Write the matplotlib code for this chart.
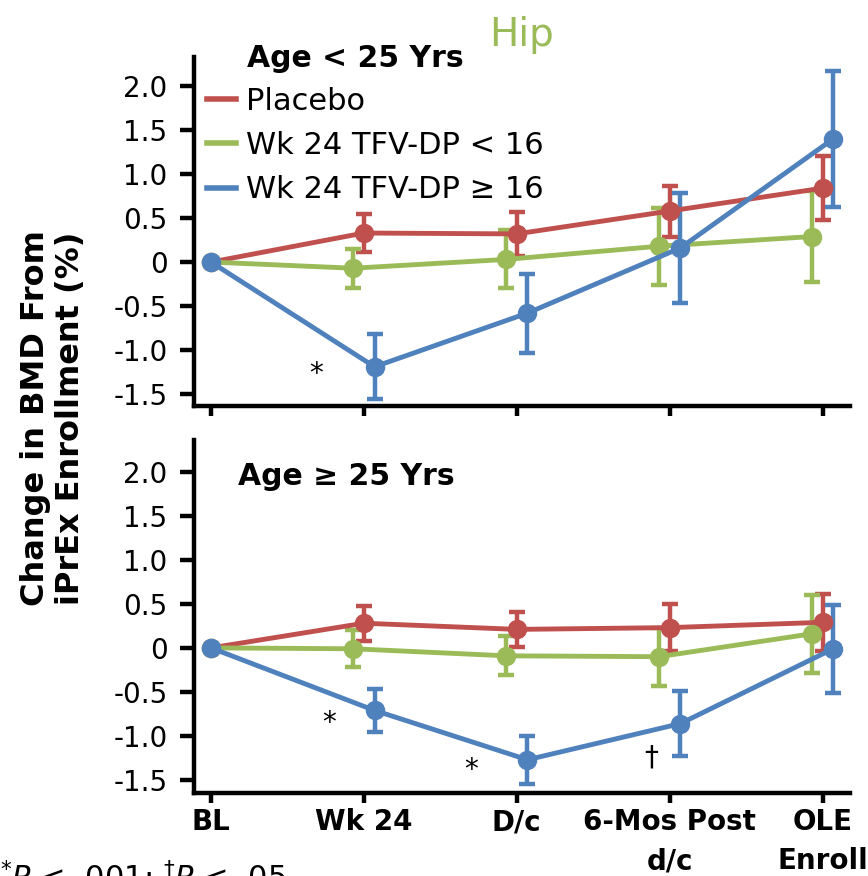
import matplotlib
matplotlib.use("Agg")
import matplotlib.pyplot as plt
import numpy as np

plt.rcParams['font.family'] = ['DejaVu Sans']

# time points
timepoints = ["BL", "Wk 24", "D/c", "6-Mos Post\nd/c", "OLE\nEnroll"]
series_names = ["Placebo", "Wk 24 TFV-DP < 16", "Wk 24 TFV-DP \u2265 16"]
colors = ["#C0504D", "#9BBB59", "#4F81BD"]
offsets = [0.0, -0.07, 0.07]

# Age < 25 years: mean change (%) and error half-widths
young_placebo = [0, 0.33, 0.32, 0.58, 0.84]
young_placebo_err = [0, 0.22, 0.25, 0.29, 0.36]
young_low = [0, -0.07, 0.03, 0.18, 0.29]
young_low_err = [0, 0.22, 0.33, 0.44, 0.52]
young_high = [0, -1.19, -0.58, 0.16, 1.40]
young_high_err = [0, 0.37, 0.45, 0.63, 0.77]

# Age >= 25 years
old_placebo = [0, 0.28, 0.21, 0.23, 0.29]
old_placebo_err = [0, 0.20, 0.20, 0.27, 0.32]
old_low = [0, -0.01, -0.09, -0.10, 0.16]
old_low_err = [0, 0.21, 0.22, 0.33, 0.44]
old_high = [0, -0.71, -1.27, -0.86, -0.01]
old_high_err = [0, 0.24, 0.27, 0.37, 0.50]

yticks = [2.0, 1.5, 1.0, 0.5, 0, -0.5, -1.0, -1.5]
ytick_labels = ["2.0", "1.5", "1.0", "0.5", "0", "-0.5", "-1.0", "-1.5"]

# significance marks (x position, y position, symbol)
young_marks = [(0.69, -1.27, "*")]
old_marks = [(0.77, -0.85, "*"), (1.70, -1.39, "*"), (2.88, -1.25, "\u2020")]

fig = plt.figure(figsize=(8.68, 8.76), dpi=100)
ax_top = fig.add_axes([0.2235, 0.5365, 0.7558, 0.3984])
ax_bot = fig.add_axes([0.2235, 0.0947, 0.7558, 0.4030])


def draw_panel(ax, data, marks, show_xlabels):
    x = np.arange(len(timepoints))
    for (vals, errs), col, off in zip(data, colors, offsets):
        xs = x + off
        xs[0] = 0
        ax.errorbar(xs, vals, yerr=errs, color=col, lw=3.5, marker="o",
                    markersize=13, elinewidth=3.2, capsize=5.5, capthick=3.2)
    for mx, my, sym in marks:
        ax.text(mx, my, sym, fontsize=20, ha="center", va="center")
    ax.set_xlim(-0.111, 4.18)
    ax.set_yticks(yticks)
    ax.set_yticklabels(ytick_labels, fontsize=20)
    ax.set_xticks(x)
    if show_xlabels:
        ax.set_xticklabels(timepoints, fontsize=20, fontweight="bold",
                           linespacing=1.5, va="top")
    else:
        ax.set_xticklabels([])
    for side in ["top", "right"]:
        ax.spines[side].set_visible(False)
    for side in ["left", "bottom"]:
        ax.spines[side].set_linewidth(3.2)
    ax.tick_params(axis="y", width=3.2, length=10, pad=9)
    ax.tick_params(axis="x", width=3.2, length=7, pad=4)


draw_panel(ax_top, [(young_placebo, young_placebo_err), (young_low, young_low_err),
                    (young_high, young_high_err)], young_marks, False)
ax_top.set_ylim(-1.636, 2.33)
draw_panel(ax_bot, [(old_placebo, old_placebo_err), (old_low, old_low_err),
                    (old_high, old_high_err)], old_marks, True)
ax_bot.set_ylim(-1.648, 2.36)

# legend in top panel
handles = [plt.Line2D([], [], color=c, lw=4) for c in colors]
fig.legend(handles, series_names, loc="upper left", bbox_to_anchor=(0.2385, 0.901),
           frameon=False, fontsize=22, handlelength=0.95, handletextpad=0.33,
           labelspacing=0.5, borderaxespad=0, borderpad=0)

fig.text(247 / 868, 1 - 67 / 876, "Age < 25 Yrs", fontsize=21.5, fontweight="bold",
         va="baseline")
fig.text(0.601, 0.96, "Hip", fontsize=28, color="#9BBB59", ha="center", va="center")
fig.text(238 / 868, 1 - 485 / 876, "Age \u2265 25 Yrs", fontsize=21.5, fontweight="bold",
         va="baseline")

fig.text(0.061, 0.523, "Change in BMD From\niPrEx Enrollment (%)", rotation=90,
         fontsize=23, fontweight="bold", ha="center", va="center",
         multialignment="center", linespacing=1.15)

fig.text(0.0, -0.014, r"$^{*}\mathit{P}$ < .001; $^{\dag}\mathit{P}$ < .05",
         fontsize=22, va="baseline")

fig.savefig("out.png", dpi=100)
